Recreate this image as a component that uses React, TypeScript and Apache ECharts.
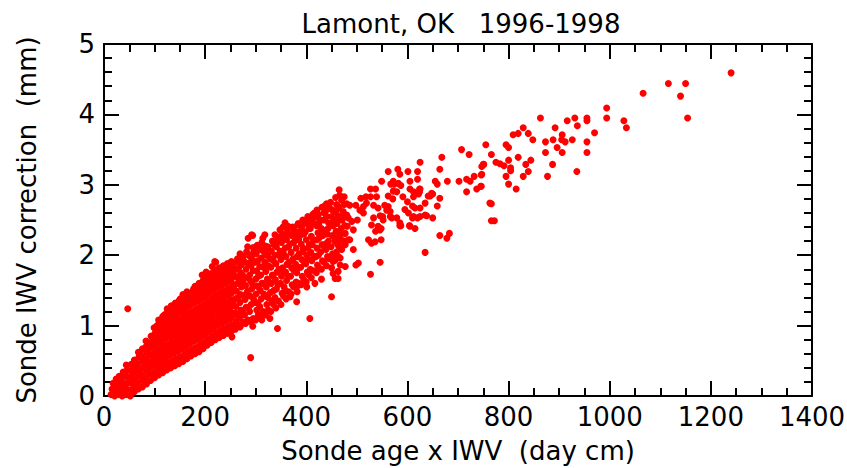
import React, { useEffect, useRef } from "react";
import * as echarts from "echarts";

// Axis definitions
const xMin = 0;
const xMax = 1400;
const xStep = 200;
const yMin = 0;
const yMax = 5;
const yStep = 1;

const titleText = "Lamont, OK   1996-1998";
const xTitle = "Sonde age x IWV  (day cm)";
const yTitle = "Sonde IWV correction  (mm)";

// Dense core of the cloud (x < 260)
const denseCoreLow: [number, number][] = [
  [14, 0.02], [16, 0.1], [18, 0.18], [21, 0.0], [22, 0.08], [23, 0.16], [24, 0.24],
  [29, 0.02], [30, 0.1], [31, 0.19], [30, 0.28], [36, 0.0], [37, 0.08], [38, 0.17], [37, 0.26], [38, 0.34],
  [44, 0.02], [45, 0.1], [46, 0.19], [45, 0.28], [46, 0.37], [44, 0.44], [52, 0.0], [53, 0.09], [54, 0.18],
  [52, 0.27], [53, 0.36], [54, 0.45], [60, 0.06], [61, 0.15], [59, 0.24], [60, 0.33], [61, 0.42], [60, 0.51],
  [68, 0.1], [67, 0.19], [69, 0.28], [68, 0.37], [67, 0.46], [69, 0.55], [68, 0.62],
  [76, 0.13], [77, 0.22], [75, 0.31], [76, 0.4], [77, 0.49], [75, 0.58], [76, 0.67],
  [84, 0.17], [83, 0.26], [85, 0.35], [84, 0.44], [83, 0.53], [85, 0.62], [84, 0.71], [83, 0.78],
  [92, 0.22], [93, 0.31], [91, 0.4], [92, 0.49], [93, 0.58], [91, 0.67], [92, 0.76], [93, 0.85],
  [100, 0.26], [101, 0.35], [99, 0.44], [100, 0.53], [101, 0.62], [99, 0.71], [100, 0.8], [101, 0.89], [99, 0.97],
  [108, 0.3], [107, 0.39], [109, 0.48], [108, 0.57], [107, 0.66], [109, 0.75], [108, 0.84], [107, 0.93], [109, 1.02], [108, 1.08],
  [116, 0.33], [117, 0.42], [115, 0.51], [116, 0.6], [117, 0.69], [115, 0.78], [116, 0.87], [117, 0.96], [115, 1.05], [116, 1.13],
  [124, 0.37], [125, 0.46], [123, 0.55], [124, 0.64], [125, 0.73], [123, 0.82], [124, 0.91], [125, 1.0], [123, 1.09], [124, 1.18], [125, 1.24],
  [132, 0.4], [133, 0.49], [131, 0.58], [132, 0.67], [133, 0.76], [131, 0.85], [132, 0.94], [133, 1.03], [131, 1.12], [132, 1.21], [133, 1.28],
  [140, 0.43], [141, 0.52], [139, 0.61], [140, 0.7], [141, 0.79], [139, 0.88], [140, 0.97], [141, 1.06], [139, 1.15], [140, 1.24], [141, 1.32],
];

const denseCoreHigh: [number, number][] = [
  [148, 0.46], [149, 0.55], [147, 0.64], [148, 0.73], [149, 0.82], [147, 0.91], [148, 1.0], [149, 1.09], [147, 1.18], [148, 1.27], [149, 1.36],
  [156, 0.49], [157, 0.58], [155, 0.67], [156, 0.76], [157, 0.85], [155, 0.94], [156, 1.03], [157, 1.12], [155, 1.21], [156, 1.3], [157, 1.39], [156, 1.44],
  [164, 0.53], [165, 0.62], [163, 0.71], [164, 0.8], [165, 0.89], [163, 0.98], [164, 1.07], [165, 1.16], [163, 1.25], [164, 1.34], [165, 1.43], [164, 1.48],
  [172, 0.57], [173, 0.66], [171, 0.75], [172, 0.84], [173, 0.93], [171, 1.02], [172, 1.11], [173, 1.2], [171, 1.29], [172, 1.38], [173, 1.47],
  [180, 0.6], [181, 0.69], [179, 0.78], [180, 0.87], [181, 0.96], [179, 1.05], [180, 1.14], [181, 1.23], [179, 1.32], [180, 1.41], [181, 1.5], [180, 1.56],
  [188, 0.63], [189, 0.72], [187, 0.81], [188, 0.9], [189, 0.99], [187, 1.08], [188, 1.17], [189, 1.26], [187, 1.35], [188, 1.44], [189, 1.53], [188, 1.6],
  [196, 0.67], [197, 0.76], [195, 0.85], [196, 0.94], [197, 1.03], [195, 1.12], [196, 1.21], [197, 1.3], [195, 1.39], [196, 1.48], [197, 1.57], [196, 1.64],
  [204, 0.72], [205, 0.81], [203, 0.9], [204, 0.99], [205, 1.08], [203, 1.17], [204, 1.26], [205, 1.35], [203, 1.44], [204, 1.53], [205, 1.62], [204, 1.69],
  [212, 0.76], [213, 0.85], [211, 0.94], [212, 1.03], [213, 1.12], [211, 1.21], [212, 1.3], [213, 1.39], [211, 1.48], [212, 1.57], [213, 1.66], [212, 1.74],
  [220, 0.8], [221, 0.89], [219, 0.98], [220, 1.07], [221, 1.16], [219, 1.25], [220, 1.34], [221, 1.43], [219, 1.52], [220, 1.61], [221, 1.7], [220, 1.79],
  [228, 0.83], [229, 0.92], [227, 1.01], [228, 1.1], [229, 1.19], [227, 1.28], [228, 1.37], [229, 1.46], [227, 1.55], [228, 1.64], [229, 1.73], [228, 1.82],
  [236, 0.86], [237, 0.95], [235, 1.04], [236, 1.13], [237, 1.22], [235, 1.31], [236, 1.4], [237, 1.49], [235, 1.58], [236, 1.67], [237, 1.76], [236, 1.85],
  [244, 0.89], [245, 0.98], [243, 1.07], [244, 1.16], [245, 1.25], [243, 1.34], [244, 1.43], [245, 1.52], [243, 1.61], [244, 1.7], [245, 1.79], [244, 1.88],
  [252, 0.92], [253, 1.01], [251, 1.1], [252, 1.19], [253, 1.28], [251, 1.37], [252, 1.46], [253, 1.55], [251, 1.64], [252, 1.73], [253, 1.82], [252, 1.91],
];

// Extra points between the core columns
const coreFill: [number, number][] = [
  [104, 0.3], [103, 0.45], [105, 0.6], [104, 0.72], [103, 0.88], [105, 1.0],
  [112, 0.34], [113, 0.5], [111, 0.63], [112, 0.8], [113, 0.92], [111, 1.06],
  [120, 0.4], [121, 0.52], [119, 0.69], [120, 0.84], [121, 0.98], [119, 1.15],
  [128, 0.42], [127, 0.6], [129, 0.72], [128, 0.9], [127, 1.05], [129, 1.2],
  [136, 0.45], [137, 0.62], [135, 0.8], [136, 0.94], [137, 1.1], [135, 1.26],
  [144, 0.5], [143, 0.66], [145, 0.84], [144, 0.98], [143, 1.13], [145, 1.3],
  [152, 0.52], [153, 0.7], [151, 0.86], [152, 1.04], [153, 1.2], [151, 1.38],
  [160, 0.55], [159, 0.74], [161, 0.9], [160, 1.08], [159, 1.24], [161, 1.42],
  [168, 0.6], [169, 0.78], [167, 0.95], [168, 1.12], [169, 1.3], [167, 1.45],
  [176, 0.62], [175, 0.8], [177, 1.0], [176, 1.16], [175, 1.34], [177, 1.52],
  [184, 0.66], [185, 0.85], [183, 1.02], [184, 1.2], [185, 1.38], [183, 1.55],
  [192, 0.7], [191, 0.88], [193, 1.06], [192, 1.24], [191, 1.42], [193, 1.6], [194, 1.72],
  [200, 0.74], [201, 0.92], [199, 1.1], [200, 1.28], [201, 1.46], [199, 1.62], [202, 1.76],
  [208, 0.78], [207, 0.96], [209, 1.14], [208, 1.32], [207, 1.5], [209, 1.7],
  [216, 0.8], [217, 1.0], [215, 1.18], [216, 1.36], [217, 1.54], [215, 1.72], [214, 1.84],
  [224, 0.84], [223, 1.04], [225, 1.22], [224, 1.4], [223, 1.6], [225, 1.78],
  [232, 0.88], [233, 1.06], [231, 1.26], [232, 1.44], [233, 1.62], [231, 1.8],
  [240, 0.9], [239, 1.1], [241, 1.28], [240, 1.48], [239, 1.66], [241, 1.84],
  [248, 0.94], [249, 1.12], [247, 1.32], [248, 1.5], [249, 1.7], [247, 1.86],
  [256, 0.96], [257, 1.15], [255, 1.34], [256, 1.52], [257, 1.72], [255, 1.88],
];

// Band between 260 and 480
const midBand: [number, number][] = [
  [260, 0.95], [262, 1.06], [259, 1.18], [261, 1.27], [260, 1.38], [262, 1.49], [259, 1.58], [261, 1.69], [260, 1.8], [262, 1.9],
  [270, 1.0], [268, 1.12], [271, 1.22], [269, 1.33], [270, 1.44], [272, 1.55], [268, 1.66], [270, 1.75], [271, 1.86], [269, 2.02],
  [280, 1.03], [278, 1.15], [281, 1.26], [279, 1.37], [282, 1.46], [280, 1.57], [278, 1.68], [281, 1.8], [279, 1.9], [282, 2.05],
  [290, 1.06], [288, 1.2], [291, 1.3], [289, 1.42], [292, 1.52], [290, 1.63], [288, 1.72], [291, 1.85], [293, 1.94],
  [300, 1.08], [302, 1.22], [299, 1.33], [301, 1.45], [303, 1.56], [300, 1.66], [302, 1.78], [299, 1.9], [301, 2.02], [303, 2.14],
  [310, 1.12], [308, 1.27], [311, 1.38], [309, 1.5], [312, 1.6], [310, 1.72], [308, 1.84], [311, 1.96], [309, 2.08], [312, 2.18],
  [320, 1.15], [322, 1.3], [319, 1.42], [321, 1.55], [323, 1.66], [320, 1.77], [318, 1.9], [321, 2.0], [319, 2.13],
  [330, 1.2], [332, 1.35], [329, 1.47], [331, 1.6], [333, 1.72], [330, 1.83], [328, 1.95], [331, 2.06], [333, 2.2],
  [340, 1.25], [338, 1.4], [341, 1.52], [339, 1.65], [342, 1.76], [340, 1.88], [338, 2.0], [341, 2.12], [343, 2.26],
  [350, 1.3], [352, 1.46], [349, 1.6], [351, 1.7], [353, 1.82], [350, 1.94], [348, 2.06], [351, 2.18], [353, 2.3],
  [360, 1.38], [358, 1.5], [361, 1.64], [359, 1.76], [362, 1.87], [360, 1.98], [358, 2.1], [361, 2.22], [363, 2.35],
  [370, 1.45], [372, 1.58], [369, 1.7], [371, 1.82], [373, 1.93], [370, 2.04], [368, 2.16], [371, 2.28], [373, 2.4],
  [382, 1.48], [380, 1.62], [381, 1.75], [379, 1.87], [382, 1.98], [380, 2.1], [378, 2.21], [381, 2.33], [383, 2.43],
  [390, 1.58], [392, 1.7], [389, 1.83], [391, 1.94], [393, 2.05], [390, 2.16], [388, 2.28], [391, 2.4], [393, 2.5],
  [400, 1.62], [402, 1.76], [399, 1.88], [401, 2.0], [403, 2.1], [400, 2.22], [398, 2.33], [401, 2.45], [403, 2.55],
  [410, 1.68], [408, 1.8], [411, 1.92], [409, 2.04], [412, 2.15], [410, 2.27], [408, 2.38], [411, 2.5], [413, 2.58],
  [420, 1.75], [422, 1.86], [419, 1.98], [421, 2.1], [423, 2.32], [420, 2.42], [418, 2.54], [421, 2.64],
  [430, 1.8], [432, 1.92], [429, 2.05], [431, 2.15], [433, 2.28], [430, 2.38], [428, 2.5], [431, 2.68],
  [440, 1.85], [442, 1.98], [439, 2.08], [441, 2.3], [443, 2.38], [440, 2.55], [438, 2.62],
  [450, 1.82], [452, 2.02], [449, 2.12], [451, 2.28], [453, 2.42], [450, 2.55], [448, 2.75],
  [460, 2.05], [462, 2.15], [459, 2.34], [461, 2.45], [463, 2.56], [460, 2.72], [458, 2.82],
  [470, 2.08], [472, 2.2], [469, 2.38], [471, 2.5], [473, 2.62], [470, 2.78],
];

// Extra points between the band columns
const bandFill: [number, number][] = [
  [265, 1.0], [266, 1.17], [264, 1.39], [265, 1.6], [266, 1.81], [264, 1.95],
  [275, 1.05], [274, 1.2], [276, 1.42], [275, 1.62], [274, 1.72], [276, 1.98],
  [285, 1.08], [286, 1.26], [284, 1.49], [285, 1.68], [286, 1.88], [284, 2.12],
  [295, 1.1], [296, 1.37], [294, 1.58], [295, 1.78], [296, 2.05],
  [305, 1.15], [304, 1.32], [306, 1.55], [305, 1.7], [304, 1.92], [306, 2.1],
  [315, 1.2], [316, 1.45], [314, 1.6], [315, 1.83], [316, 2.05], [314, 2.24],
  [325, 1.22], [324, 1.4], [326, 1.62], [325, 1.85], [324, 2.12],
  [335, 1.3], [336, 1.5], [334, 1.7], [335, 1.92], [336, 2.15],
  [345, 1.35], [344, 1.58], [346, 1.8], [345, 2.0], [344, 2.2],
  [355, 1.42], [356, 1.55], [354, 1.78], [355, 2.02], [356, 2.25], [354, 2.4],
  [365, 1.48], [364, 1.7], [366, 1.9], [365, 2.12], [364, 2.3],
  [375, 1.55], [376, 1.78], [374, 1.95], [375, 2.18], [376, 2.35],
  [385, 1.6], [384, 1.82], [386, 2.02], [385, 2.22], [384, 2.45],
  [395, 1.65], [396, 1.9], [394, 2.1], [395, 2.3], [396, 2.48],
  [405, 1.72], [404, 1.95], [406, 2.15], [405, 2.38], [404, 2.52],
  [415, 1.78], [416, 1.98], [414, 2.22], [415, 2.45], [416, 2.6],
  [425, 1.82], [424, 2.0], [426, 2.25], [425, 2.45], [424, 2.58],
  [435, 1.9], [436, 2.12], [434, 2.35], [435, 2.5], [436, 2.7],
  [445, 1.95], [444, 2.2], [446, 2.45], [445, 2.68],
  [455, 2.0], [456, 2.25], [454, 2.5], [455, 2.62],
  [465, 2.12], [466, 2.3], [464, 2.5], [465, 2.68], [466, 2.85],
  [475, 2.2], [476, 2.42], [474, 2.58], [475, 2.72],
];

// Individually read points around the band edges (x 250-700)
const edgePoints: [number, number][] = [
  [465, 2.93], [475, 2.83], [440, 2.73], [450, 2.65], [460, 2.64], [480, 2.73], [480, 2.57], [435, 2.6],
  [427, 2.5], [444, 2.46], [406, 2.43], [358, 2.46], [364, 2.41], [348, 2.36], [355, 2.29], [388, 2.34],
  [381, 2.26], [318, 2.29], [338, 2.29], [292, 2.29], [285, 2.24], [348, 2.22], [322, 2.11], [325, 2.03],
  [295, 2.11], [292, 2.0], [421, 2.22], [440, 2.17], [467, 2.22], [483, 2.22], [467, 1.96], [453, 1.91],
  [477, 1.84], [430, 1.66], [457, 1.67], [450, 1.41], [407, 1.1], [401, 1.55], [417, 1.6], [381, 1.55],
  [381, 1.34], [368, 1.41], [343, 0.96], [328, 1.1], [312, 1.08], [294, 0.99], [269, 0.98], [253, 0.84],
  [219, 1.91], [239, 1.79], [256, 1.79], [272, 1.93], [289, 1.98], [221, 1.9], [294, 2.28],
  [459, 2.5], [483, 2.53], [486, 2.71], [498, 2.71], [506, 2.64], [513, 2.6], [501, 2.5], [490, 2.48],
  [481, 2.41], [493, 2.36], [477, 2.31], [467, 2.26], [457, 2.19], [477, 2.15], [486, 2.22], [463, 1.98],
  [467, 1.86], [457, 1.93], [463, 1.77], [453, 1.74], [463, 1.67],
  [508, 2.81], [518, 2.83], [527, 2.94], [537, 2.94], [527, 2.83], [539, 2.83], [519, 2.74], [533, 2.71],
  [513, 2.69], [542, 2.67], [555, 2.71], [562, 2.69], [566, 2.62], [546, 2.56], [552, 2.5], [566, 2.55],
  [569, 2.53], [533, 2.53], [542, 2.41], [529, 2.43], [587, 2.42], [579, 2.53], [537, 2.34], [546, 2.36],
  [523, 2.22], [536, 2.19], [529, 2.17], [493, 2.08], [503, 1.89], [498, 1.86], [527, 1.73],
  [572, 2.91], [562, 2.84], [571, 2.8], [591, 2.83], [612, 2.9], [618, 2.88], [625, 2.94], [600, 2.76],
  [610, 2.7], [615, 2.67], [625, 2.67], [635, 2.74], [641, 2.84], [648, 2.88], [664, 2.81], [659, 2.7],
  [602, 2.6], [612, 2.55], [620, 2.53], [638, 2.56], [650, 2.53], [585, 2.46], [585, 2.42], [604, 2.42],
  [615, 2.38], [559, 2.64], [551, 2.55], [548, 2.38], [548, 2.22], [664, 2.28], [678, 2.24], [683, 2.31],
  [635, 2.04], [546, 1.9], [574, 3.01], [567, 3.01], [579, 2.9], [605, 2.94], [624, 2.94], [624, 2.9],
  [612, 2.83], [622, 2.87], [645, 2.84], [650, 2.87], [635, 2.57], [595, 2.65], [625, 2.55], [610, 2.53],
  [605, 2.41],
];

// Sparse upper part (x > 540)
const sparseHigh: [number, number][] = [
  [1240, 4.59], [1066, 4.3], [1116, 4.44], [1150, 4.44], [1140, 4.26], [1154, 3.95], [994, 4.09], [994, 3.95],
  [1028, 3.91], [1033, 3.81], [863, 3.95], [931, 3.95], [955, 3.95], [955, 3.91], [916, 3.91], [936, 3.84],
  [970, 3.74], [892, 3.81], [829, 3.81], [819, 3.73], [809, 3.71], [839, 3.73], [848, 3.64], [755, 3.57],
  [795, 3.57], [800, 3.53], [766, 3.43], [873, 3.61], [888, 3.64], [906, 3.71], [905, 3.64], [912, 3.61],
  [926, 3.64], [896, 3.53], [906, 3.46], [873, 3.46], [955, 3.61], [955, 3.46], [887, 3.29], [877, 3.12],
  [935, 3.19], [750, 3.29], [775, 3.32], [783, 3.3], [791, 3.27], [800, 3.35], [804, 3.2], [804, 3.24],
  [819, 3.39], [844, 3.35], [834, 3.29], [839, 3.19], [829, 3.12], [795, 3.12], [800, 3.01], [815, 2.94],
  [746, 3.14], [746, 2.98], [766, 2.73], [766, 2.49], [772, 2.49],
  [707, 3.5], [722, 3.43], [747, 3.26], [751, 3.29], [668, 3.39], [625, 3.32], [664, 3.22], [581, 3.22],
  [562, 3.19], [601, 3.19], [620, 3.19], [620, 3.08], [585, 3.15], [549, 3.05], [572, 3.05], [582, 3.02],
  [587, 2.99], [605, 3.05], [655, 3.05], [659, 3.01], [679, 3.05], [702, 3.05], [717, 3.08], [724, 3.05],
  [732, 3.12], [717, 2.9], [737, 2.94], [745, 2.98], [747, 3.15], [763, 2.74],
];

// Isolated outliers
const outliers: [number, number][] = [
  [47, 1.24], [290, 0.545],
];

const FONT = "DejaVu Sans";

export default function App() {
  const ref = useRef<HTMLDivElement>(null);

  useEffect(() => {
    if (!ref.current) return;
    const chart = echarts.init(ref.current, undefined, { renderer: "svg" });

    const mkLine = () => ({ show: true, onZero: false, lineStyle: { color: "#000", width: 2 } });
    const mkTick = () => ({ show: true, inside: true, length: 15, lineStyle: { color: "#000", width: 2 } });
    const mkMinor = (n: number) => ({ show: true, splitNumber: n, length: 8, lineStyle: { color: "#000", width: 2 } });
    const fmt = (v: number) => String(v);

    const allPoints = [
      ...denseCoreLow, ...denseCoreHigh, ...coreFill, ...midBand, ...bandFill,
      ...edgePoints, ...sparseHigh, ...outliers,
    ];

    chart.setOption({
      animation: false,
      backgroundColor: "#fff",
      grid: { left: 104, right: 35, top: 44, bottom: 72, containLabel: false, outerBoundsMode: "none" },
      graphic: [
        {
          type: "text",
          x: 461,
          y: 24,
          style: {
            text: titleText,
            fontFamily: FONT,
            fontSize: 26,
            fill: "#000",
            textAlign: "center",
            textVerticalAlign: "middle",
          },
        },
      ],
      xAxis: [
        {
          type: "value",
          position: "bottom",
          min: xMin,
          max: xMax,
          interval: xStep,
          axisLine: mkLine(),
          axisTick: mkTick(),
          minorTick: mkMinor(4),
          splitLine: { show: false },
          axisLabel: { show: true, color: "#000", fontFamily: FONT, fontSize: 26, margin: 8, formatter: fmt },
          name: xTitle,
          nameLocation: "middle",
          nameGap: 42,
          nameTextStyle: { color: "#000", fontFamily: FONT, fontSize: 26 },
        },
        {
          type: "value",
          position: "top",
          min: xMin,
          max: xMax,
          interval: xStep,
          axisLine: mkLine(),
          axisTick: mkTick(),
          minorTick: mkMinor(4),
          splitLine: { show: false },
          axisLabel: { show: false },
        },
      ],
      yAxis: [
        {
          type: "value",
          position: "left",
          min: yMin,
          max: yMax,
          interval: yStep,
          axisLine: mkLine(),
          axisTick: mkTick(),
          minorTick: mkMinor(5),
          splitLine: { show: false },
          axisLabel: { show: true, color: "#000", fontFamily: FONT, fontSize: 26, margin: 9, formatter: fmt },
          name: yTitle,
          nameLocation: "middle",
          nameGap: 64,
          nameTextStyle: { color: "#000", fontFamily: FONT, fontSize: 26 },
        },
        {
          type: "value",
          position: "right",
          min: yMin,
          max: yMax,
          interval: yStep,
          axisLine: mkLine(),
          axisTick: mkTick(),
          minorTick: mkMinor(5),
          splitLine: { show: false },
          axisLabel: { show: false },
        },
      ],
      series: [
        {
          type: "scatter",
          xAxisIndex: 0,
          yAxisIndex: 0,
          symbol: "circle",
          symbolSize: 7,
          itemStyle: { color: "#ff0000", opacity: 1 },
          data: allPoints,
          silent: true,
        },
      ],
    });

    return () => chart.dispose();
  }, []);

  return (
    <div
      ref={ref}
      style={{ position: "absolute", left: 0, top: 0, width: 847, height: 468 }}
    />
  );
}
